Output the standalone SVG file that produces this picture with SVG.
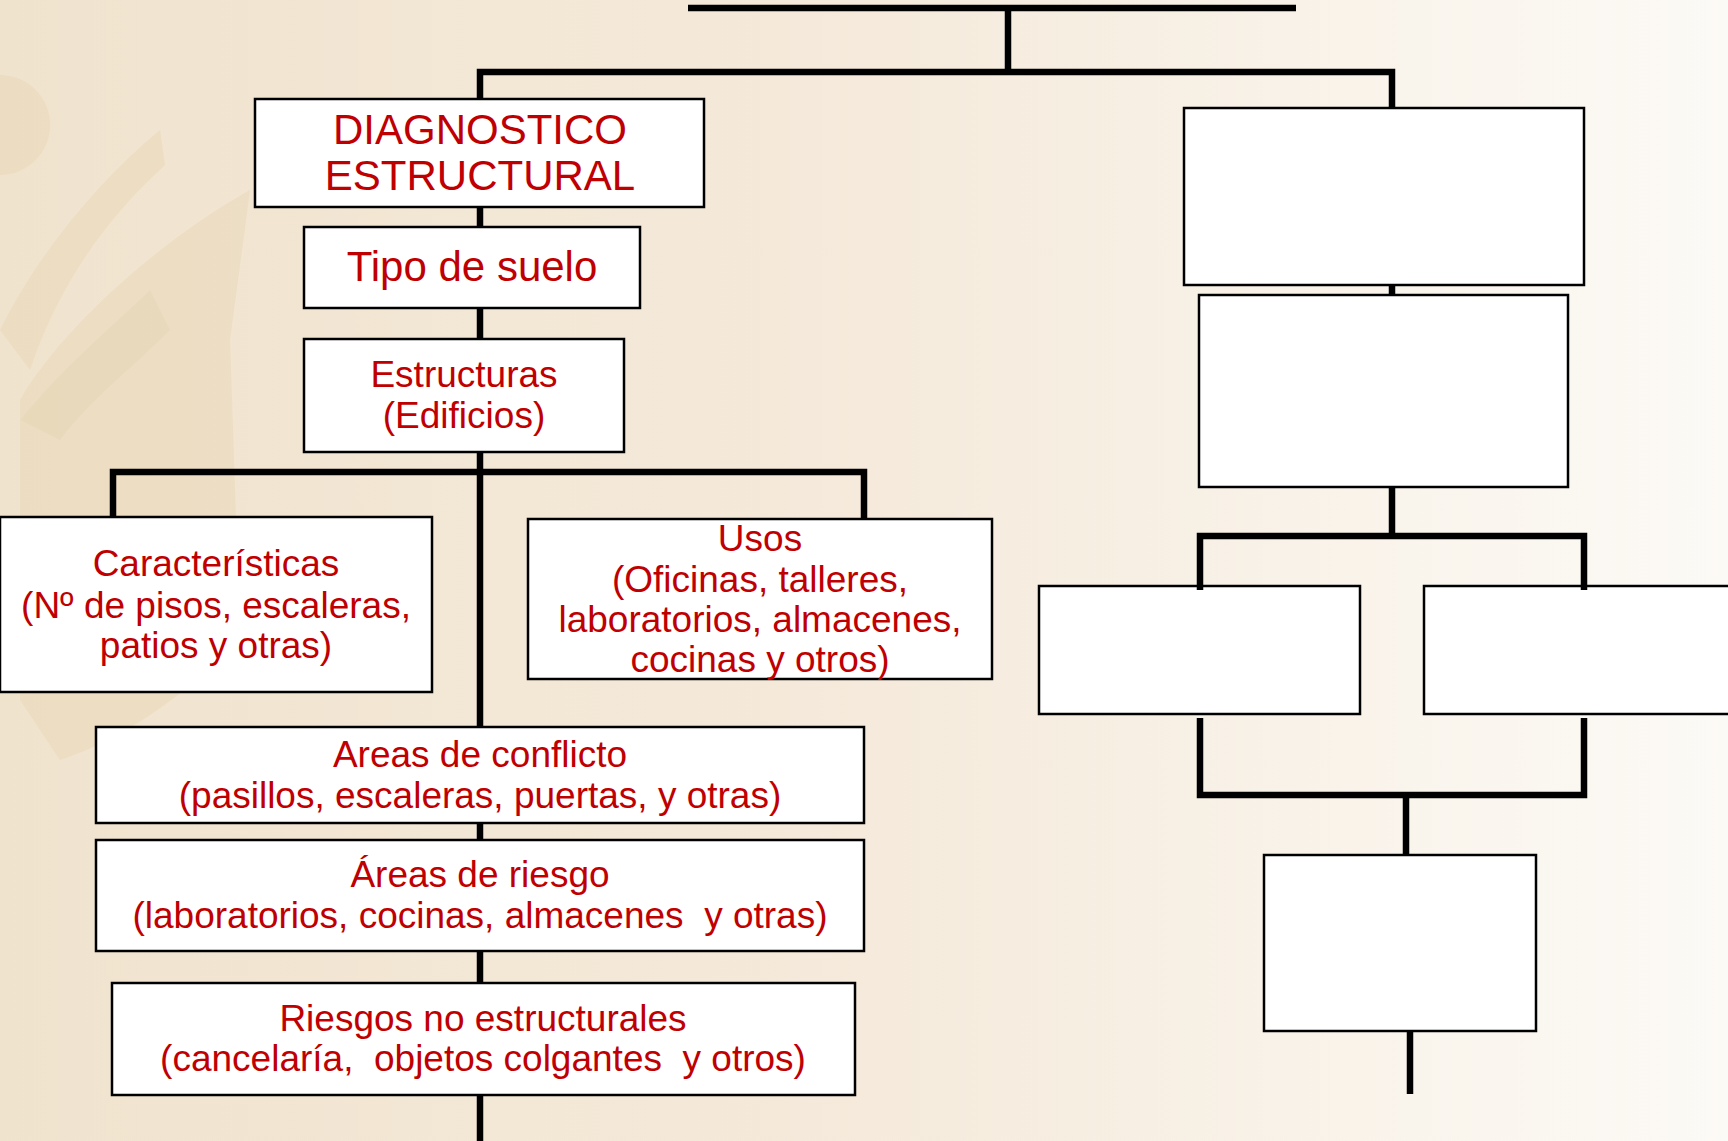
<svg xmlns="http://www.w3.org/2000/svg" width="1728" height="1141" viewBox="0 0 1728 1141">
  <defs>
    <linearGradient id="bg" x1="0" y1="0" x2="1" y2="0">
      <stop offset="0" stop-color="#F0E3CE"/>
      <stop offset="0.5" stop-color="#F5EADB"/>
      <stop offset="1" stop-color="#FCFAF6"/>
    </linearGradient>
  </defs>
  <style>
    .box { fill: #FFFFFF; stroke: #000000; stroke-width: 2.5; }
    .con { fill: none; stroke: #000000; stroke-width: 6.5; stroke-linejoin: miter; stroke-linecap: butt; }
    .t { font-family: "Liberation Sans", Arial, sans-serif; fill: #C00000; text-anchor: middle; white-space: pre; }
    .big { font-size: 42px; }
    .mid { font-size: 37px; }
    .wm { fill: #E6D4B4; opacity: 0.45; }
  </style>
  <rect x="0" y="0" width="1728" height="1141" fill="url(#bg)"/>
  <g id="watermark">
    <circle class="wm" cx="0" cy="125" r="50"/>
    <path class="wm" d="M0 330 C40 250 100 180 160 130 L165 165 C110 215 60 280 30 370 Z"/>
    <path class="wm" d="M20 420 C70 360 120 320 150 290 L170 330 C130 370 90 400 60 440 Z"/>
    <path class="wm" d="M20 700 L20 400 C60 330 160 240 250 190 L230 340 L240 640 C180 700 120 740 60 760 Z" opacity="0.3"/>
  </g>
  <g id="connectors">
    <line class="con" x1="688" y1="8" x2="1296" y2="8"/>
    <line class="con" x1="1008" y1="8" x2="1008" y2="72"/>
    <polyline class="con" points="480,99 480,72 1392,72 1392,108"/>
    <line class="con" x1="480" y1="207" x2="480" y2="227"/>
    <line class="con" x1="480" y1="308" x2="480" y2="339"/>
    <line class="con" x1="480" y1="452" x2="480" y2="727"/>
    <polyline class="con" points="113,518 113,472 864,472 864,519"/>
    <line class="con" x1="480" y1="823" x2="480" y2="840"/>
    <line class="con" x1="480" y1="951" x2="480" y2="983"/>
    <line class="con" x1="480" y1="1095" x2="480" y2="1141"/>
    <line class="con" x1="1392" y1="285" x2="1392" y2="295"/>
    <line class="con" x1="1392" y1="487" x2="1392" y2="536"/>
    <line class="con" x1="1406" y1="795" x2="1406" y2="855"/>
    <line class="con" x1="1410" y1="1031" x2="1410" y2="1094"/>
  </g>
  <g id="n-diagnostico">
    <rect class="box" x="255" y="99" width="449" height="108"/>
    <text class="t big" x="480" y="144">DIAGNOSTICO</text>
    <text class="t big" x="480" y="190">ESTRUCTURAL</text>
  </g>
  <g id="n-tipo">
    <rect class="box" x="304" y="227" width="336" height="81"/>
    <text class="t big" x="472" y="281">Tipo de suelo</text>
  </g>
  <g id="n-estructuras">
    <rect class="box" x="304" y="339" width="320" height="113"/>
    <text class="t mid" x="464" y="387">Estructuras</text>
    <text class="t mid" x="464" y="428">(Edificios)</text>
  </g>
  <g id="n-caracteristicas">
    <rect class="box" x="0" y="517" width="432" height="175"/>
    <text class="t mid" x="216" y="576">Características</text>
    <text class="t mid" x="216" y="618">(Nº de pisos, escaleras,</text>
    <text class="t mid" x="216" y="658">patios y otras)</text>
  </g>
  <g id="n-usos">
    <rect class="box" x="528" y="519" width="464" height="160"/>
    <text class="t mid" x="760" y="551">Usos</text>
    <text class="t mid" x="760" y="592">(Oficinas, talleres,</text>
    <text class="t mid" x="760" y="632">laboratorios, almacenes,</text>
    <text class="t mid" x="760" y="672">cocinas y otros)</text>
  </g>
  <g id="n-conflicto">
    <rect class="box" x="96" y="727" width="768" height="96"/>
    <text class="t mid" x="480" y="767">Areas de conflicto</text>
    <text class="t mid" x="480" y="808">(pasillos, escaleras, puertas, y otras)</text>
  </g>
  <g id="n-riesgo">
    <rect class="box" x="96" y="840" width="768" height="111"/>
    <text class="t mid" x="480" y="887">Áreas de riesgo</text>
    <text class="t mid" x="480" y="928">(laboratorios, cocinas, almacenes  y otras)</text>
  </g>
  <g id="n-noestructurales">
    <rect class="box" x="112" y="983" width="743" height="112"/>
    <text class="t mid" x="483" y="1031">Riesgos no estructurales</text>
    <text class="t mid" x="483" y="1071">(cancelaría,  objetos colgantes  y otros)</text>
  </g>
  <g id="n-r1">
    <rect class="box" x="1184" y="108" width="400" height="177"/>
  </g>
  <g id="n-r2">
    <rect class="box" x="1199" y="295" width="369" height="192"/>
  </g>
  <g id="n-r3">
    <rect class="box" x="1039" y="586" width="321" height="128"/>
  </g>
  <g id="n-r4">
    <rect class="box" x="1424" y="586" width="310" height="128"/>
  </g>
  <g id="n-r5">
    <rect class="box" x="1264" y="855" width="272" height="176"/>
  </g>
  <g id="connectors-over">
    <polyline class="con" points="1200,590 1200,536 1584,536 1584,590"/>
    <polyline class="con" points="1200,718 1200,795 1584,795 1584,718"/>
  </g>
</svg>
